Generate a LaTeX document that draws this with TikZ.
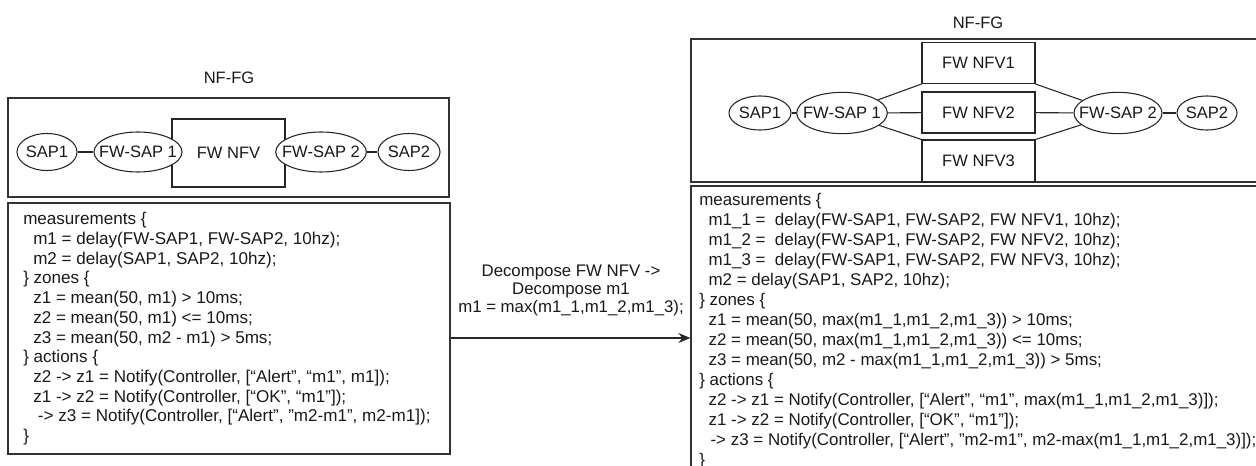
\documentclass[tikz,border=0pt]{standalone}
\usepackage{fontspec}
\setmainfont{Liberation Sans}
\usetikzlibrary{shapes.geometric,fit,arrows.meta}
\newcommand\zwtext[1]{\makebox[0pt]{#1}}
\begin{document}
\begin{tikzpicture}[x=0.75pt,y=-0.75pt,
  every node/.style={font=\fontsize{12.4}{14.85}\selectfont, text=black!90},
  frame/.style={draw=black!80, line width=0.95pt, inner sep=0pt},
  sap/.style={ellipse, draw=black!85, fill=white, line width=0.8pt, inner sep=0pt},
  nfv/.style={rectangle, draw=black!85, fill=white, line width=0.8pt, inner sep=0pt, minimum width=84.75pt},
  link/.style={draw=black!85, line width=0.8pt},
  code/.style={anchor=north west, align=left, inner sep=0pt},
  codel/.style={code, font=\fontsize{12.8}{14.8}\selectfont},
  coder/.style={code, font=\fontsize{12.7}{15}\selectfont},
  lbl/.style={align=center, inner sep=0pt, font=\fontsize{12.6}{13.5}\selectfont},
]
\clip (0,0) rectangle (1256,466);
% ---------- left NF-FG ----------
\node[inner sep=0pt] (ltitle) at (229,78) {NF-FG};
\node[frame, fit={(8,98) (449,197)}] (ltop) {};
\node[frame, fit={(8,203) (450,454)}] (lbot) {};
\node[nfv, minimum height=51pt] (lnfv) at (228.5,153) {FW NFV};
\node[sap, minimum width=45pt, minimum height=27.75pt] (lsap1) at (47,152) {\zwtext{SAP1}};
\node[sap, minimum width=66pt, minimum height=30pt] (lfw1) at (138,152) {\zwtext{FW-SAP 1}};
\node[sap, minimum width=68pt, minimum height=30pt] (lfw2) at (321,152) {\zwtext{FW-SAP 2}};
\node[sap, minimum width=46.5pt, minimum height=27.75pt] (lsap2) at (409,152) {\zwtext{SAP2}};
\draw[link] (lsap1) -- (lfw1);
\draw[link] (lfw2) -- (lsap2);
\node[codel] (ltext) at (23,212) {measurements \{\\
\hspace*{7.5pt}m1 = delay(FW-SAP1, FW-SAP2, 10hz);\\
\hspace*{7.5pt}m2 = delay(SAP1, SAP2, 10hz);\\
\} zones \{\\
\hspace*{7.5pt}z1 = mean(50, m1) > 10ms;\\
\hspace*{7.5pt}z2 = mean(50, m1) <= 10ms;\\
\hspace*{7.5pt}z3 = mean(50, m2 - m1) > 5ms;\\
\} actions \{\\
\hspace*{7.5pt}z2 -> z1 = Notify(Controller, [“Alert”, “m1”, m1]);\\
\hspace*{7.5pt}z1 -> z2 = Notify(Controller, [“OK”, “m1”]);\\
\hspace*{11pt}-> z3 = Notify(Controller, [“Alert”, ”m2-m1”, m2-m1]);\\
\}};
% ---------- right NF-FG ----------
\node[inner sep=0pt] (rtitle) at (978,23) {NF-FG};
\node[frame, fit={(691,39) (1300,182)}] (rtop) {};
\node[frame, fit={(691,186) (1300,500)}] (rbot) {};
\node[nfv, minimum height=30.75pt] (nfv1) at (978.5,63) {FW NFV1};
\node[nfv, minimum height=30.75pt] (nfv2) at (978.5,112.5) {FW NFV2};
\node[nfv, minimum height=31.5pt] (nfv3) at (978.5,161) {FW NFV3};
\node[sap, minimum width=46.5pt, minimum height=25.5pt] (rsap1) at (760,113) {\zwtext{SAP1}};
\node[sap, minimum width=68pt, minimum height=31pt] (rfw1) at (842,113) {\zwtext{FW-SAP 1}};
\node[sap, minimum width=66pt, minimum height=31pt] (rfw2) at (1118,113) {\zwtext{FW-SAP 2}};
\node[sap, minimum width=45pt, minimum height=25.5pt] (rsap2) at (1207,113) {\zwtext{SAP2}};
\draw[link] (rsap1) -- (rfw1);
\draw[link] (rfw1) -- (nfv1.south west);
\draw[link] (rfw1) -- (nfv2);
\draw[link] (rfw1) -- (nfv3.north west);
\draw[link] (nfv1.south east) -- (rfw2);
\draw[link] (nfv2) -- (rfw2);
\draw[link] (nfv3.north east) -- (rfw2);
\draw[link] (rfw2) -- (rsap2);
\node[coder] (rtext) at (699,193) {measurements \{\\
\hspace*{7pt}m1\_1 = \ delay(FW-SAP1, FW-SAP2, FW NFV1, 10hz);\\
\hspace*{7pt}m1\_2 = \ delay(FW-SAP1, FW-SAP2, FW NFV2, 10hz);\\
\hspace*{7pt}m1\_3 = \ delay(FW-SAP1, FW-SAP2, FW NFV3, 10hz);\\
\hspace*{7pt}m2 = delay(SAP1, SAP2, 10hz);\\
\} zones \{\\
\hspace*{7pt}z1 = mean(50, max(m1\_1,m1\_2,m1\_3)) > 10ms;\\
\hspace*{7pt}z2 = mean(50, max(m1\_1,m1\_2,m1\_3)) <= 10ms;\\
\hspace*{7pt}z3 = mean(50, m2 - max(m1\_1,m1\_2,m1\_3)) > 5ms;\\
\} actions \{\\
\hspace*{7pt}z2 -> z1 = Notify(Controller, [“Alert”, “m1”, max(m1\_1,m1\_2,m1\_3)]);\\
\hspace*{7pt}z1 -> z2 = Notify(Controller, [“OK”, “m1”]);\\
\hspace*{8.5pt}-> z3 = Notify(Controller, [“Alert”, ”m2-m1”, m2-max(m1\_1,m1\_2,m1\_3)]);\\
\}};
% ---------- transformation arrow ----------
\coordinate (ay) at (0,338);
\draw[link, -{Stealth[length=9pt,width=7.5pt]}] (lbot.east |- ay) -- (rbot.west |- ay);
\node[lbl] (arrlbl) at (571,290) {Decompose FW NFV ->\\ Decompose m1\\ m1 = max(m1\_1,m1\_2,m1\_3);};
\end{tikzpicture}
\end{document}
